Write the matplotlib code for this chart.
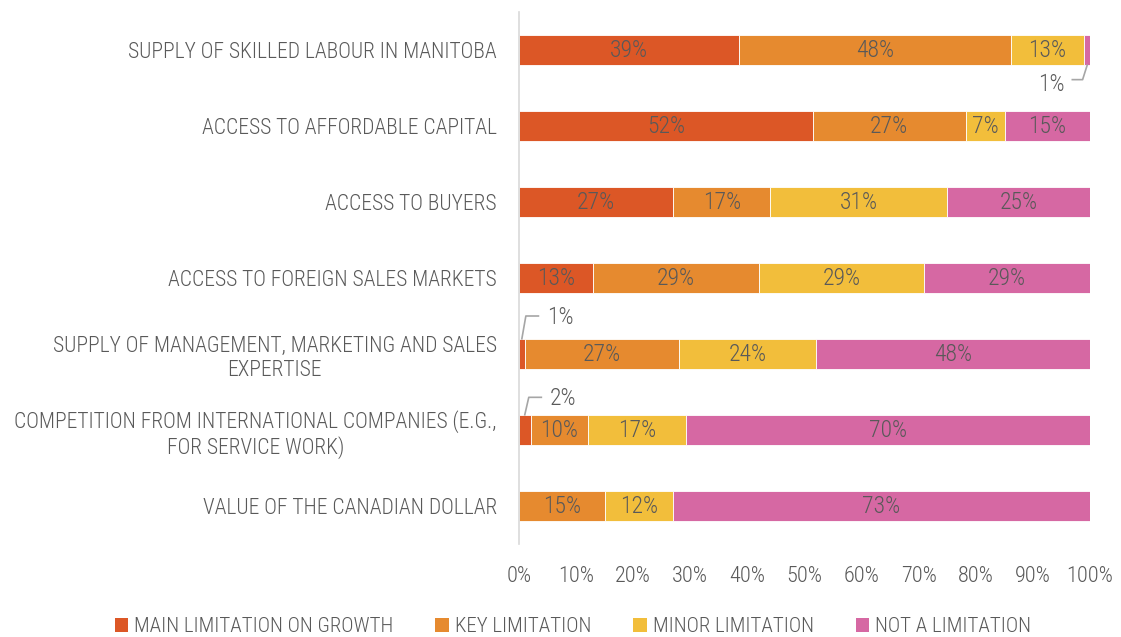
import matplotlib
matplotlib.use("Agg")
import matplotlib.pyplot as plt
import numpy as np

plt.rcParams['font.family'] = ['Roboto Condensed', 'Liberation Sans Narrow', 'Roboto', 'DejaVu Sans']
plt.rcParams['font.weight'] = 'light'

categories = [
    "SUPPLY OF SKILLED LABOUR IN MANITOBA",
    "ACCESS TO AFFORDABLE CAPITAL",
    "ACCESS TO BUYERS",
    "ACCESS TO FOREIGN SALES MARKETS",
    "SUPPLY OF MANAGEMENT, MARKETING AND SALES\nEXPERTISE",
    "COMPETITION FROM INTERNATIONAL COMPANIES (E.G.,\nFOR SERVICE WORK)",
    "VALUE OF THE CANADIAN DOLLAR",
]
series_names = ["MAIN LIMITATION ON GROWTH", "KEY LIMITATION", "MINOR LIMITATION", "NOT A LIMITATION"]
main_limitation = [39, 52, 27, 13, 1, 2, 0]
key_limitation = [48, 27, 17, 29, 27, 10, 15]
minor_limitation = [13, 7, 31, 29, 24, 17, 12]
not_limitation = [1, 15, 25, 29, 48, 70, 73]
x_ticks = [0, 10, 20, 30, 40, 50, 60, 70, 80, 90, 100]

colors = ["#DC5726", "#E68A2F", "#F2BE3B", "#D668A3"]
text_gray = "#595959"

data = np.array([main_limitation, key_limitation, minor_limitation, not_limitation], dtype=float)
totals = data.sum(axis=0)
shares = data / totals * 100  # each row stacked to 100%

fig = plt.figure(figsize=(11.21, 6.37), dpi=100)
ax = fig.add_axes([519 / 1121, 1 - 544 / 637, 571 / 1121, 532 / 637])

y = np.arange(len(categories))
left = np.zeros(len(categories))
for i, name in enumerate(series_names):
    ax.barh(y, shares[i], left=left, height=0.4, color=colors[i],
            edgecolor="white", linewidth=0.6, label=name)
    for j in range(len(categories)):
        v = data[i, j]
        if v >= 5:
            ax.text(left[j] + shares[i, j] / 2, y[j], f"{int(v)}%",
                    ha="center", va="center", fontsize=17, color=text_gray)
    left += shares[i]

# leader-line labels for the thin segments
line_kw = dict(color="#A6A6A6", linewidth=1.2)
# row 0: "not a limitation" 1%
x0 = 100 - shares[3, 0] / 2
ax.plot([x0, x0 - 0.8, x0 - 2.6], [0.2, 0.39, 0.39], **line_kw)
ax.text(x0 - 4.0, 0.45, f"{int(not_limitation[0])}%", ha="right", va="center",
        fontsize=17, color=text_gray)
# rows 4 and 5: "main limitation" 1% and 2%
for row, dy in ((4, -0.5), (5, -0.43)):
    xm = shares[0, row] / 2
    ax.plot([xm, xm + 0.7, xm + 2.9], [row - 0.2, row + dy, row + dy], **line_kw)
    ax.text(xm + 4.4, row + dy + 0.02, f"{int(main_limitation[row])}%", ha="left",
            va="center", fontsize=17, color=text_gray)

ax.set_xlim(0, 100)
ax.set_ylim(len(categories) - 0.5, -0.5)
ax.set_yticks(y)
ax.set_yticklabels(categories, fontsize=15.5, color=text_gray)
for lbl in ax.get_yticklabels():
    lbl.set_multialignment("center")
ax.set_xticks(x_ticks)
ax.set_xticklabels([f"{t}%" for t in x_ticks], fontsize=16, color=text_gray)
ax.tick_params(axis="both", length=0)
ax.tick_params(axis="y", pad=16)
ax.tick_params(axis="x", pad=16)
for side in ("top", "right", "bottom"):
    ax.spines[side].set_visible(False)
ax.spines["left"].set_color("#D9D9D9")
ax.spines["left"].set_linewidth(1.2)

leg = fig.legend(loc="center", bbox_to_anchor=(573 / 1121, 1 - 627 / 637), ncol=4,
                 frameon=False, fontsize=15, handlelength=0.65, handleheight=0.65,
                 handletextpad=0.3, columnspacing=2.0)
for t in leg.get_texts():
    t.set_color(text_gray)
for h in leg.legend_handles:
    h.set_edgecolor("none")

fig.savefig("out.png", dpi=100)
